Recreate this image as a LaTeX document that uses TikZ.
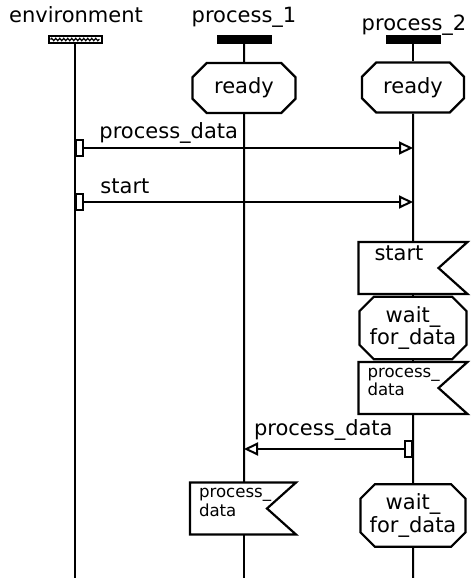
\documentclass[tikz,border=0pt]{standalone}
\usepackage{fontspec}
\setmainfont{DejaVu Sans}
\usetikzlibrary{positioning, arrows.meta, shapes.misc, decorations.pathmorphing}

\tikzset{
  head/.style={draw, line width=1pt, minimum width=26.5pt, minimum height=3.5pt, inner sep=0pt},
  envhead/.style={head, fill=white, path picture={\draw[line width=0.6pt, decorate,
      decoration={snake, amplitude=0.6pt, segment length=2pt}]
      ([xshift=1pt]path picture bounding box.west) -- ([xshift=-1pt]path picture bounding box.east);}},
  prochead/.style={head, fill=black},
  state/.style={chamfered rectangle, chamfered rectangle xsep=3.5pt, draw, fill=white,
    line width=1.1pt, minimum width=51.5pt, minimum height=25pt, inner sep=1pt, align=center},
  inbox/.style={rectangle, minimum width=53.5pt, minimum height=25pt, inner sep=0pt},
  inframe/.style={line width=1.1pt, line join=miter},
  sendbox/.style={draw, fill=white, line width=0.9pt, minimum width=3.5pt, minimum height=8pt, inner sep=0pt},
  small/.style={font=\fontsize{8.3}{8}\selectfont, align=left, inner sep=0pt},
}
% outline of an input symbol round a named node
\newcommand{\inframe}[1]{\draw[inframe] (#1.north west) -- (#1.north east)
  -- ([xshift=-14.5pt]#1.east) -- (#1.south east) -- (#1.south west) -- cycle;}

\begin{document}
\begin{tikzpicture}[x=0.5pt, y=-0.5pt, node distance=84.5pt, on grid, line width=1pt,
    >={Triangle[open, length=7pt, width=6.5pt]}, font=\fontsize{10.5}{9.5}\selectfont]
  \useasboundingbox (0,0) rectangle (474,578);
  % instance heads
  \node[envhead] (envh) at (75,39.5) {};
  \node[prochead, right=of envh] (p1h) {};
  \node[prochead, right=of p1h] (p2h) {};
  \node[anchor=base] (envl) at (76,23) {environment};
  \node[anchor=base] (p1l) at (244,23) {process\_1};
  \node[anchor=base] (p2l) at (414,31) {process\_2};
  % states and inputs
  \node[state] (p1ready) at (244,88) {ready};
  \node[state, minimum width=51pt] (p2ready) at (413,87.5) {ready};
  \node[inbox, label={[anchor=base west, inner sep=0pt, xshift=7.5pt, yshift=4pt]west:start}] (p2start) at (413,268) {};
  \node[state, minimum width=53.5pt, minimum height=26pt] (p2wait) at (413,328) {wait\_\\for\_data};
  \node[inbox, label={[small, anchor=west, xshift=4pt, yshift=3pt]west:process\_\\data}] (p2in) at (413,388) {};
  \node[inbox, minimum width=52pt, label={[small, anchor=west, xshift=4pt, yshift=3pt]west:process\_\\data}] (p1in) at (243,508.5) {};
  \node[state, minimum width=52.5pt, minimum height=26.5pt] (p2wait2) at (413,515.5) {wait\_\\for\_data};
  \inframe{p2start}
  \inframe{p2in}
  \inframe{p1in}
  % ends of the lifelines
  \coordinate (envend) at (75,578);
  \coordinate (p1end) at (244,578);
  \coordinate (p2end) at (413,578);
  % lifelines
  \draw (envh) -- (envend);
  \draw (p1h) -- (p1ready);
  \draw (p1ready) -- (p1ready |- p1in.north);
  \draw (p1ready |- p1in.south) -- (p1end);
  \draw (p2h) -- (p2ready);
  \draw (p2ready) -- (p2start);
  \draw (p2start) -- (p2wait);
  \draw (p2wait) -- (p2in);
  \draw (p2in) -- (p2wait2);
  \draw (p2wait2) -- (p2end);
  % messages
  \coordinate (p2m1) at (413,148);
  \coordinate (p2m2) at (413,202);
  \coordinate (p1m3) at (244,449);
  \node[sendbox, anchor=west] (sb1) at (75,148) {};
  \node[sendbox, anchor=west] (sb2) at (75,202) {};
  \node[sendbox, anchor=east] (sb3) at (413,449) {};
  \draw[->] (sb1) -- node[anchor=base west, at start, xshift=4pt, yshift=5pt] (m1l) {process\_data} (p2m1);
  \draw[->] (sb2) -- node[anchor=base west, at start, xshift=4.5pt, yshift=4.5pt] (m2l) {start} (p2m2);
  \draw[->] (sb3) -- node[anchor=base east, at start, xshift=-2pt, yshift=7pt] (m3l) {process\_data} (p1m3);
\end{tikzpicture}
\end{document}
